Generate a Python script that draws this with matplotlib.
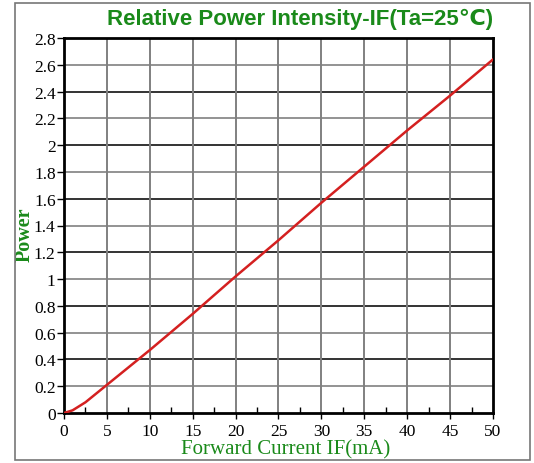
import matplotlib
matplotlib.use("Agg")
import matplotlib.pyplot as plt
from matplotlib.patches import Rectangle

current_mA = [0, 1, 2.5, 5, 7.5, 10, 15, 20, 25, 30, 35, 40, 45, 50]
rel_power = [0, 0.02, 0.08, 0.21, 0.34, 0.47, 0.74, 1.02, 1.29, 1.57, 1.84, 2.11, 2.37, 2.64]
x_ticks = [0, 5, 10, 15, 20, 25, 30, 35, 40, 45, 50]
y_ticks = [0, 0.2, 0.4, 0.6, 0.8, 1, 1.2, 1.4, 1.6, 1.8, 2, 2.2, 2.4, 2.6, 2.8]
y_labels = ["0", "0.2", "0.4", "0.6", "0.8", "1", "1.2", "1.4", "1.6", "1.8", "2", "2.2", "2.4", "2.6", "2.8"]

green = "#1a8a1a"
W, H = 534, 464
fig = plt.figure(figsize=(W/100, H/100), dpi=100)
fig.patch.set_facecolor("white")

# outer frame
fig.patches.append(Rectangle((15/W, 1 - 461/H), (530-15)/W, (461-4)/H,
                             transform=fig.transFigure, fill=False,
                             edgecolor="#777777", linewidth=1.2))

ax = fig.add_axes([64/W, 1 - 414/H, (493-64)/W, (414-39)/H])
ax.set_xlim(0, 50)
ax.set_ylim(0, 2.8)

for i, yv in enumerate(y_ticks[1:-1], start=1):
    ax.axhline(yv, color="#111111" if i % 2 == 0 else "#808080", linewidth=1.2, zorder=1)
for xv in x_ticks[1:-1]:
    ax.axvline(xv, color="#808080", linewidth=1.4, zorder=1)

ax.plot(current_mA, rel_power, color="#d42020", linewidth=1.8, zorder=3)

ax.set_xticks(x_ticks)
ax.set_xticklabels([str(v) for v in x_ticks], fontfamily="Liberation Serif", fontsize=12.5)
ax.set_yticks(y_ticks)
ax.set_yticklabels(y_labels, fontfamily="Liberation Serif", fontsize=12.5)
ax.set_xticks([2.5 + 5*i for i in range(10)], minor=True)
ax.tick_params(axis="x", which="major", direction="out", length=4, width=1, pad=3)
ax.tick_params(axis="x", which="minor", direction="in", length=4, width=1)
ax.tick_params(axis="y", which="major", direction="out", length=5, width=1, pad=1)
for s in ax.spines.values():
    s.set_linewidth(2)
    s.set_color("black")

ax.set_xlabel("Forward Current IF(mA)", fontfamily="Liberation Serif", fontsize=15,
              color=green, va="center")
ax.xaxis.set_label_coords(0.517, -0.096)
ax.set_ylabel("Power", fontfamily="Liberation Serif", fontsize=14.5, fontweight="bold",
              color=green, va="center")
ax.yaxis.set_label_coords(-0.091, 0.477)

fig.text(300/W, 1 - 19/H, "Relative Power Intensity-IF(Ta=25℃)",
         family=["Liberation Sans", "DejaVu Sans"], fontsize=16, fontweight="bold",
         color=green, ha="center", va="center")

fig.savefig("out.png", dpi=100)
